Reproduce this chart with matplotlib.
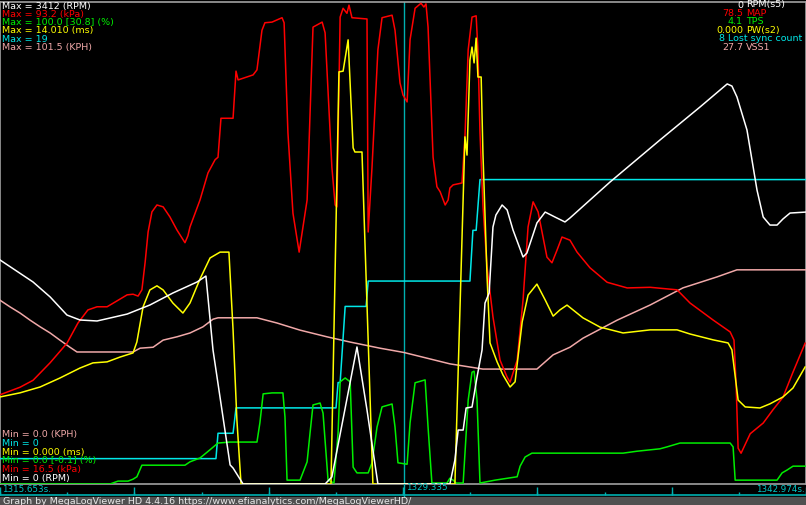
import matplotlib
matplotlib.use('Agg')
import matplotlib.pyplot as plt
from matplotlib.patches import Rectangle
import numpy as np

t_start = 1315.653
t_end = 1342.974
t_cursor = 1329.335

# seconds since t_start
rpm_t = [0, 1.12, 1.70, 2.27, 2.71, 3.29, 3.73, 4.31, 5.08, 5.86, 6.68, 6.98, 7.22, 7.80, 7.90, 8.24,
         11.02, 11.25, 12.10, 12.44, 12.81, 15.25, 15.42, 15.53, 15.70, 15.80, 16.00, 16.17, 16.34,
         16.44, 16.58, 16.71, 16.81, 17.02, 17.19, 17.39, 17.73, 17.86, 18.20, 18.48, 18.81, 19.15,
         19.32, 20.68, 22.37, 23.73, 24.65, 24.81, 24.98, 25.32, 25.66, 25.87, 26.10, 26.34, 26.54,
         26.78, 27.32]
rpm = [1586, 1430, 1324, 1196, 1161, 1154, 1175, 1203, 1267, 1352, 1430, 1472, 949, 135, 113, 0,
       0, 50, 970, 524, 0, 0, 170, 382, 382, 538, 545, 757, 949,
       1281, 1352, 1819, 1904, 1975, 1940, 1798, 1607, 1635, 1848, 1925, 1890, 1855,
       1883, 2138, 2435, 2669, 2832, 2817, 2740, 2506, 2081, 1890, 1833, 1833, 1876,
       1918, 1925]

map_t = [0, 0.68, 1.12, 1.70, 2.27, 2.64, 2.98, 3.29, 3.63, 4.31,
         4.51, 4.68, 4.81, 4.92, 5.02, 5.15, 5.32, 5.53, 5.76, 6.00,
         6.27, 6.37, 6.44,
         6.78, 7.05, 7.29, 7.39, 7.49, 7.90, 8.00, 8.07, 8.58, 8.71,
         8.88, 8.98, 9.22, 9.56, 9.63, 9.76, 9.93, 10.14, 10.41, 10.61,
         10.92, 11.02, 11.25, 11.36, 11.42, 11.53, 11.63, 11.76, 11.83, 11.93,
         12.44, 12.48, 12.61, 12.81, 12.95, 13.29, 13.39, 13.56, 13.66, 13.80,
         13.90, 14.07, 14.27, 14.37, 14.44, 14.51, 14.68, 14.81, 14.92, 15.09,
         15.19, 15.25, 15.36, 15.66, 15.76, 15.87, 16.00, 16.14, 16.20, 16.27,
         16.37, 16.51, 16.71, 16.95, 17.19, 17.29, 17.53, 17.73, 17.90, 18.07,
         18.24, 18.54, 18.71, 18.88, 19.05, 19.32, 19.56, 20.00, 20.58, 21.26,
         22.04, 22.95, 23.39, 24.17, 24.75, 24.88, 24.95, 25.02, 25.12, 25.43,
         25.87, 26.20, 26.54, 26.88, 27.29]
map_kpa = [30.7, 31.9, 33.0, 35.8, 38.9, 42.1, 44.2, 44.7, 44.7, 46.6,
           46.7, 46.4, 47.4, 51.8, 56.6, 59.8, 60.9, 60.6, 59.0, 56.9,
           54.9, 56.0, 57.4,
           61.7, 66.0, 68.1, 68.5, 74.7, 74.7, 82.2, 80.8, 81.6, 82.4,
           88.7, 89.9, 90.0, 90.7, 89.9, 72.4, 59.6, 53.4, 61.7, 89.2,
           90.0, 88.3, 66.9, 60.9, 60.6, 90.8, 92.2, 91.4, 92.7, 90.7,
           90.5, 56.6, 66.9, 85.6, 90.7, 91.1, 88.7, 80.3, 78.4, 77.3,
           87.2, 92.2, 93.0, 92.4, 92.9, 89.2, 68.5, 63.8, 63.0, 60.9,
           61.7, 63.6, 64.1, 64.4, 71.7, 85.6, 90.8, 91.0, 85.6, 72.4,
           60.9, 51.0, 43.1, 36.2, 33.5, 32.7, 36.2, 45.8, 57.4, 61.4,
           59.8, 52.6, 51.7, 53.7, 55.8, 55.3, 53.4, 50.9, 48.6, 47.7,
           47.8, 47.4, 45.3, 42.6, 40.7, 39.4, 32.6, 22.2, 21.4, 24.5,
           26.2, 28.3, 30.3, 34.3, 38.9]

pw_t = [0, 0.68, 1.36, 2.03, 2.71, 3.15, 3.63, 4.07, 4.51, 4.64,
        4.85, 5.08, 5.32, 5.53, 5.86, 6.20, 6.44, 6.78, 7.12, 7.46,
        7.76, 7.90, 8.03, 8.17, 11.22, 11.49, 11.63, 11.80, 11.97, 12.03,
        12.27, 12.64, 15.42, 15.76, 15.83, 15.93, 16.00, 16.07, 16.14, 16.20,
        16.31, 16.37, 16.51, 16.61, 16.85, 17.05, 17.29, 17.46, 17.70, 17.90,
        18.20, 18.48, 18.75, 18.98, 19.22, 19.76, 20.34, 21.12, 22.04, 22.95,
        23.39, 24.17, 24.68, 24.81, 25.02, 25.26, 25.76, 26.10, 26.54, 26.88,
        27.29]
pw_ms = [2.53, 2.65, 2.82, 3.08, 3.37, 3.52, 3.55, 3.69, 3.81, 4.13,
         5.15, 5.64, 5.76, 5.64, 5.26, 4.97, 5.26, 5.96, 6.57, 6.74,
         6.74, 4.48, 1.86, 0, 0, 11.98, 12.00, 12.91, 9.77, 9.65,
         9.65, 0, 0, 10.09, 9.56, 12.32, 12.70, 12.24, 12.96, 11.83,
         11.83, 9.62, 6.02, 4.10, 3.55, 3.17, 2.82, 2.97, 4.71, 5.49,
         5.81, 5.35, 4.88, 5.06, 5.20, 4.83, 4.56, 4.39, 4.48, 4.48,
         4.36, 4.19, 4.10, 3.90, 2.44, 2.24, 2.21, 2.33, 2.53, 2.79,
         3.40]

tps_t = [0, 3.73, 4.00, 4.34, 4.51, 4.64, 4.81, 6.27, 6.44, 6.78,
         7.02, 7.39, 7.80, 8.71, 8.81, 8.92, 9.22, 9.59, 9.66, 9.73,
         10.17, 10.41, 10.51, 10.61, 10.85, 10.95, 11.12, 11.32, 11.46, 11.53,
         11.70, 11.87, 11.97, 12.10, 12.48, 12.61, 12.78, 12.95, 13.29, 13.39,
         13.49, 13.80, 13.90, 14.07, 14.41, 14.51, 14.64, 15.15, 15.25, 15.36,
         15.46, 15.70, 15.87, 16.00, 16.07, 16.17, 16.27, 16.78, 17.53, 17.63,
         17.80, 18.03, 21.12, 21.59, 22.37, 22.61, 23.05, 24.75, 24.85, 24.92,
         26.34, 26.51, 26.68, 26.88, 27.29]
tps = [0, 0, 0.6, 0.6, 1.0, 1.5, 3.9, 3.9, 4.6, 5.4,
       6.6, 8.5, 8.7, 8.7, 12.7, 18.7, 18.9, 18.9, 13.9, 0.8,
       0.8, 4.6, 10.6, 16.4, 16.8, 14.7, 0.8, 0.2, 10.6, 21.2,
       22.0, 21.2, 3.5, 2.3, 2.3, 4.4, 11.8, 16.0, 16.6, 11.8,
       4.4, 4.1, 12.7, 21.0, 21.6, 11.8, 0.2, 0.2, 1.2, 0.8,
       0.2, 0.2, 17.4, 23.2, 23.4, 17.4, 0.2, 0.8, 1.5, 3.7,
       5.6, 6.4, 6.4, 6.8, 7.3, 7.7, 8.5, 8.5, 7.7, 0.8,
       0.8, 2.3, 2.9, 3.7, 3.7]

sync_t = [0, 7.32, 7.39, 7.90, 8.00, 11.39, 11.46, 11.53, 11.70, 12.41, 12.48, 15.93, 16.03, 16.14, 16.27, 27.32]
sync = [1, 1, 2, 2, 3, 3, 4, 4, 7, 7, 8, 8, 10, 10, 12, 12]

vss_t = [0, 0.34, 0.68, 1.02, 1.36, 1.70, 2.03, 2.37, 2.61, 4.51, 4.75, 5.19, 5.53, 6.00, 6.44, 6.88,
         7.22, 7.39, 8.71, 9.39, 10.17, 11.08, 11.86, 12.88, 13.69, 14.47, 15.25, 16.37, 18.20, 18.75,
         19.32, 19.76, 20.92, 22.04, 23.15, 24.30, 24.98, 27.32]
vss = [38.7, 37.3, 36.0, 34.5, 33.1, 31.8, 30.3, 28.8, 27.8, 27.8, 28.6, 28.8, 30.3, 31.0, 31.8, 33.1,
       34.7, 35.0, 35.0, 33.9, 32.4, 31.0, 29.9, 28.6, 27.7, 26.5, 25.3, 24.2, 24.2, 27.2,
       28.8, 30.7, 34.5, 37.7, 41.3, 43.6, 45.1, 45.1]

c_rpm = '#ffffff'
c_map = '#ff0000'
c_tps = '#00ee00'
c_pw = '#ffff00'
c_sync = '#00e8e8'
c_vss = '#f0a8a8'

max_lines = [('Max = 3412 (RPM)', c_rpm), ('Max = 93.2 (kPa)', c_map), ('Max = 100.0 [30.8] (%)', c_tps),
             ('Max = 14.010 (ms)', c_pw), ('Max = 19', c_sync), ('Max = 101.5 (KPH)', c_vss)]
min_lines = [('Min = 0.0 (KPH)', c_vss), ('Min = 0', c_sync), ('Min = 0.000 (ms)', c_pw),
             ('Min = 0.0 [-0.1] (%)', c_tps), ('Min = 16.5 (kPa)', c_map), ('Min = 0 (RPM)', c_rpm)]
cursor_vals = [('0', 'RPM(s5)', c_rpm), ('78.5', 'MAP', c_map), ('4.1', 'TPS', c_tps),
               ('0.000', 'PW(s2)', c_pw), ('8', 'Lost sync count', c_sync), ('27.7', 'VSS1', c_vss)]

W, H = 806, 505
fs = 6.8
fig = plt.figure(figsize=(W / 100, H / 100), dpi=100, facecolor='black')

ax = fig.add_axes([0, 21 / H, 1, 482 / H])
ax.set_facecolor('black')
ax.set_xlim(t_start, t_end)
ax.set_xticks([])
ax.set_yticks([])
for s in ax.spines.values():
    s.set_color('#a0a0a0')
    s.set_linewidth(1.2)


def trace(t, v, lo, hi, color):
    a = ax.twinx()
    a.set_ylim(lo, hi)
    a.plot(t_start + np.array(t), v, color=color, lw=1.1, solid_joinstyle='round')
    a.axis('off')


trace(vss_t, vss, 0, 101.5, c_vss)
trace(sync_t, sync, 0, 19, c_sync)
trace(tps_t, tps, 0, 100, c_tps)
trace(map_t, map_kpa, 16.5, 93.2, c_map)
trace(pw_t, pw_ms, 0, 14.01, c_pw)
trace(rpm_t, rpm, 0, 3412, c_rpm)
ax.axvline(t_cursor, color='#00b0b0', lw=1.0, zorder=0)

# time strip
tax = fig.add_axes([0, 8 / H, 1, 13 / H])
tax.set_facecolor('black')
tax.set_xlim(t_start, t_end)
tax.set_ylim(0, 1)
tax.axis('off')
tax.axhline(0.15, color='#00b0b0', lw=1.2)
ticks = np.linspace(t_start, t_end, 13)
tax.vlines(ticks, 0.15, 0.38, color='#00b0b0', lw=1.0)
tax.vlines(ticks[::2], 0.15, 0.78, color='#00b0b0', lw=1.0)
tax.axvline(t_cursor, color='#00b0b0', lw=1.0)
tax.text(t_start + 0.06, 0.54, '1315.653s.', color='#00c8c8', fontsize=6.3, va='center', ha='left')
tax.text(t_cursor + 0.08, 0.72, '1329.335', color='#00c8c8', fontsize=6.3, va='center', ha='left')
tax.text(t_end - 0.03, 0.54, '1342.974s.', color='#00c8c8', fontsize=6.3, va='center', ha='right')

# footer
fig.add_artist(Rectangle((0, 0), 1, 8 / H, transform=fig.transFigure, color='#505050', zorder=0))
fig.text(3 / W, 1 - 501.5 / H, 'Graph by MegaLogViewer HD 4.4.16 https://www.efianalytics.com/MegaLogViewerHD/',
         color='#e8e8e8', fontsize=fs, va='center', ha='left')

for i, (s, c) in enumerate(max_lines):
    fig.text(2 / W, 1 - (6 + i * 8.3) / H, s, color=c, fontsize=fs, va='center', ha='left')
for i, (s, c) in enumerate(min_lines):
    fig.text(2 / W, 1 - (435 + i * 8.6) / H, s, color=c, fontsize=fs, va='center', ha='left')
for i, (v, name, c) in enumerate(cursor_vals):
    y = 1 - (5 + i * 8.4) / H
    if name == 'Lost sync count':
        fig.text(724 / W, y, v, color=c, fontsize=fs, va='center', ha='right')
        fig.text(728 / W, y, name, color=c, fontsize=fs, va='center', ha='left')
    else:
        fig.text(743 / W, y, v, color=c, fontsize=fs, va='center', ha='right')
        fig.text(746 / W, y, name, color=c, fontsize=fs, va='center', ha='left')

fig.savefig('out.png', dpi=100, facecolor='black')
